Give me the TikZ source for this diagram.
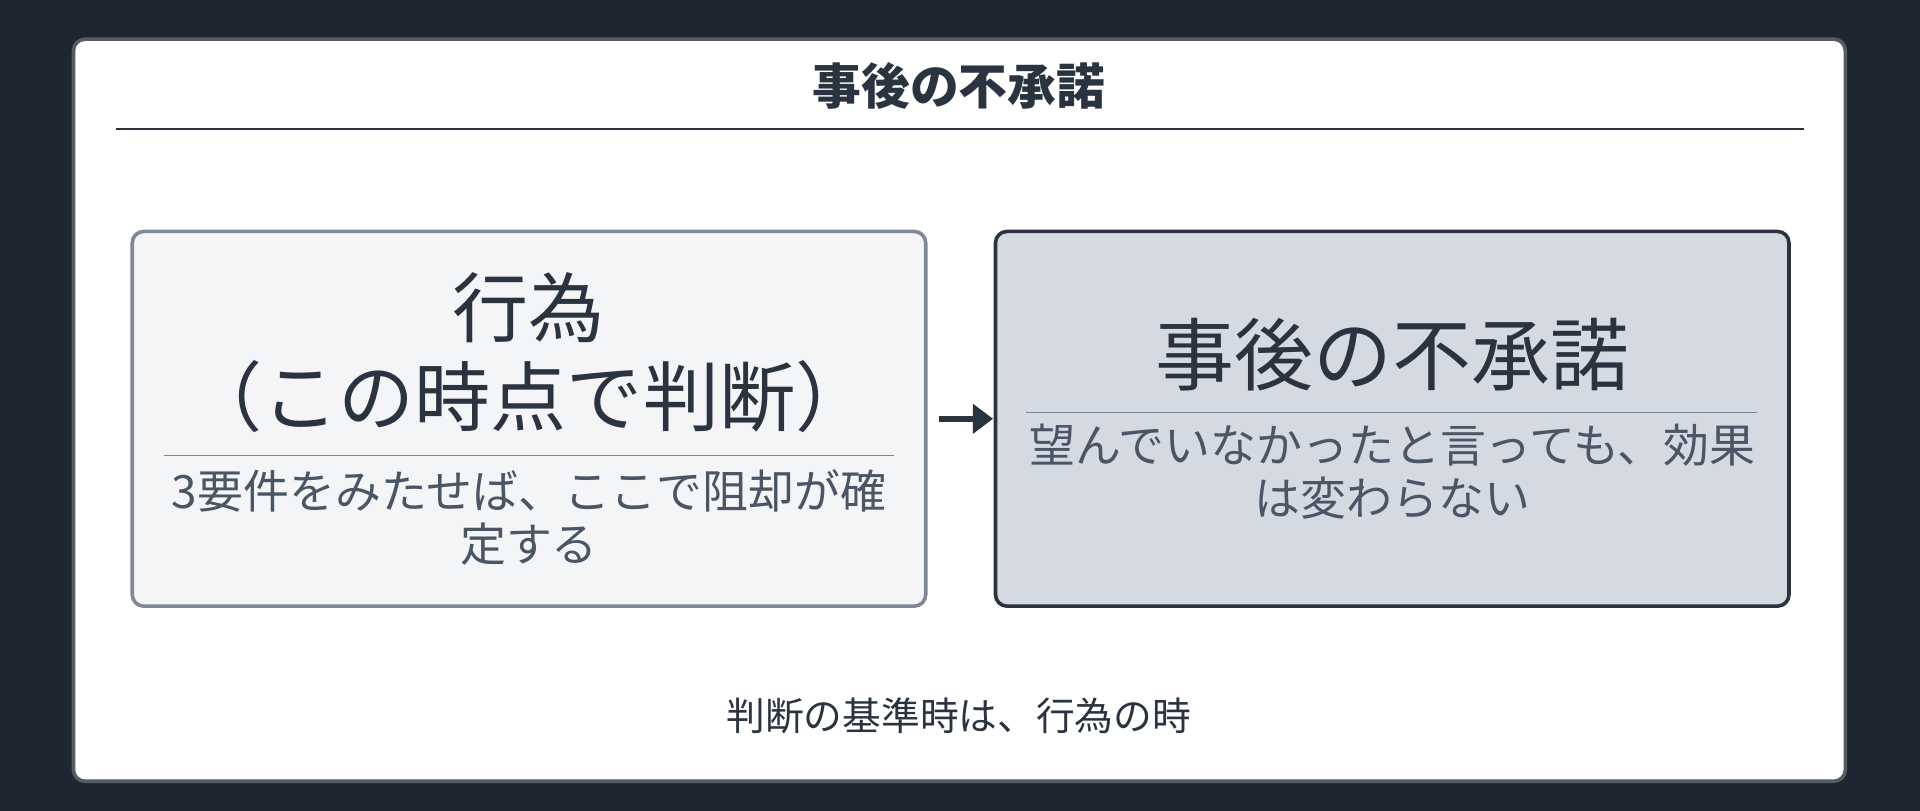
\documentclass[tikz,border=0pt]{standalone}
\usepackage{fontspec}
\setmainfont{Noto Sans CJK JP}
\usetikzlibrary{arrows.meta}
\definecolor{bgdark}{HTML}{1E2631}
\definecolor{ink}{HTML}{2A3340}
\definecolor{soft}{HTML}{4A5565}
\definecolor{paleL}{HTML}{F3F5F7}
\definecolor{paleR}{HTML}{D5DAE2}
\definecolor{edgeL}{HTML}{7F8897}
\tikzset{every picture/.style={line width=0.75pt}}

\begin{document}
\begin{tikzpicture}[x=0.03cm,y=-0.03cm,
        box/.style={rounded corners=8pt,line width=2.5pt},
        big/.style={font=\fontsize{53}{62}\selectfont,text=ink,align=center},
        sub/.style={font=\fontsize{32}{37}\selectfont,text=soft,align=center}]
        \fill[bgdark] (0,0) rectangle (1568,662);
        \draw[box,fill=white,draw=ink!80] (60,32) rectangle (1507,638);
        \node[font=\fontsize{34}{40}\selectfont\bfseries,text=ink] (title) at (783,70) {事後の不承諾};
        \draw[ink,line width=1.5pt] (95,105) -- (1473,105);

        % left box
        \draw[box,fill=paleL,draw=edgeL] (108,189) rectangle (756,495);
        \node[big] (act) at (432,288) {行為\\（この時点で判断）};
        \draw[edgeL,line width=1pt] (134,372) -- (730,372);
        \node[sub] (actnote) at (432,423) {3要件をみたせば、ここで阻却が確\\定する};

        % right box
        \draw[box,fill=paleR,draw=ink] (813,189) rectangle (1461,495);
        \node[big,font=\fontsize{55}{62}\selectfont] (refuse) at (1137,290) {事後の不承諾};
        \draw[edgeL,line width=1pt] (838,337) -- (1435,337);
        \node[sub] (refnote) at (1137,385) {望んでいなかったと言っても、効果\\は変わらない};

        \coordinate (aL) at (767,342);
        \coordinate (aR) at (811,342);
        \draw[-{Triangle[length=14pt,width=20pt]},ink,line width=4pt] (aL) -- (aR);

        \node[font=\fontsize{27}{32}\selectfont,text=ink] (foot) at (783,585) {判断の基準時は、行為の時};
    \end{tikzpicture}
\end{document}
